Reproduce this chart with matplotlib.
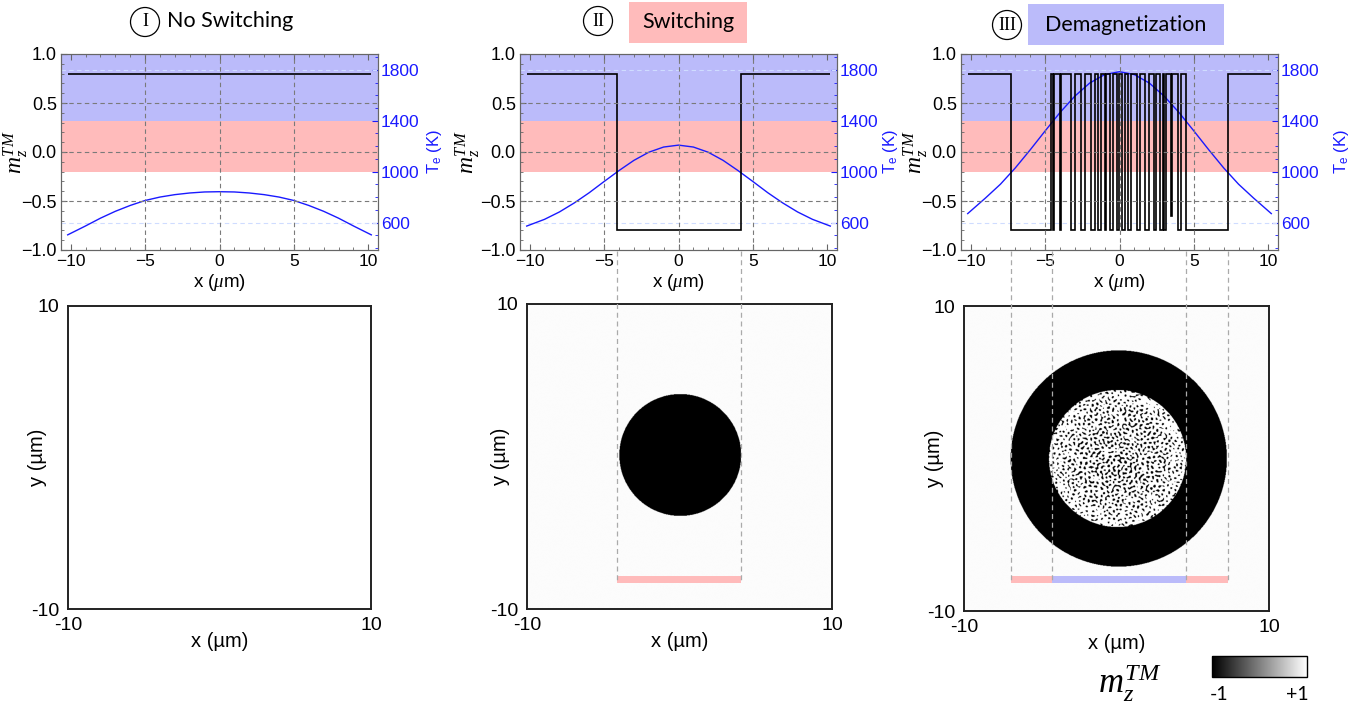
import matplotlib
matplotlib.use("Agg")
import matplotlib.pyplot as plt
import numpy as np
from matplotlib import transforms
from matplotlib.patches import Rectangle, Ellipse
from matplotlib.lines import Line2D
from matplotlib.ticker import MultipleLocator, FuncFormatter, FixedLocator
from matplotlib.cm import ScalarMappable
from matplotlib.colors import Normalize

plt.rcParams['font.family'] = ['Liberation Sans', 'DejaVu Sans']
plt.rcParams['mathtext.fontset'] = 'custom'
plt.rcParams['mathtext.it'] = 'Liberation Serif:italic'
plt.rcParams['mathtext.rm'] = 'Liberation Sans'
plt.rcParams['mathtext.sf'] = 'Liberation Sans'

# ---- data -------------------------------------------------------------
titles = ["No Switching", "Switching", "Demagnetization"]
numerals = ["I", "II", "III"]

# electron temperature along the cut (K)
x_T = [-10.2, -9, -8, -7, -6, -5, -4, -3, -2, -1, 0, 1, 2, 3, 4, 5, 6, 7, 8, 9, 10.2]
T_none = [503, 573, 634, 688, 734, 773, 800, 819, 832, 840, 842,
          840, 832, 819, 800, 773, 734, 688, 634, 573, 503]
T_switch = [572, 625, 683, 754, 834, 922, 1008, 1088, 1152, 1193, 1208,
            1193, 1152, 1088, 1008, 922, 834, 754, 683, 625, 572]
T_demag = [670, 793, 901, 1029, 1171, 1319, 1464, 1593, 1696, 1762, 1785,
           1762, 1696, 1593, 1464, 1319, 1171, 1029, 901, 793, 670]

# thresholds (K)
T_SW = 1000
T_DM = 1400

# m_z^TM along the cut: step edges (um) and level in each step
mz_edges_none = [-10.2, 10.2]
mz_none = [0.8]
mz_edges_switch = [-10.2, -4.1, 4.2, 10.2]
mz_switch = [0.8, -0.8, 0.8]
mz_edges_demag = [-10.2, -7.3, -4.57, -4.45, -4.38, -4.02, -3.95, -3.25, -3.0,
                  -2.6, -2.35, -1.9, -1.65, -1.45, -1.25, -1.0, -0.9, -0.65,
                  -0.42, -0.2, -0.05, 0.15, 0.35, 0.6, 0.8, 1.15, 1.4, 1.7,
                  1.95, 2.3, 2.42, 2.72, 2.95, 3.0, 3.1, 3.48, 3.53, 3.95,
                  4.15, 4.5, 7.3, 10.2]
mz_demag = [0.8, -0.8, 0.8, -0.8, 0.8, -0.8, 0.8, -0.8, 0.8, -0.8, 0.8,
            -0.8, 0.8, -0.8, 0.8, -0.8, 0.8, -0.8, 0.8, -0.8, 0.8, -0.8,
            0.8, -0.8, 0.8, -0.8, 0.8, -0.8, 0.8, -0.8, 0.8, -0.8, 0.8,
            -0.8, 0.8, -0.65, 0.8, -0.8, 0.8, -0.8, 0.8]

# domain-wall positions along the cut (um) and zone of each interval
walls_switch = [-4.1, 4.2]
zones_switch = ["sw"]
walls_demag = [-7.3, -4.55, 4.5, 7.3]
zones_demag = ["sw", "dm", "sw"]

# 2D maps: background m_z, switched disk (x0, y0, r) in um
bg_none = 1.0
bg_other = 0.97
disk_switch = (0.05, 0.1, 4.0)
disk_demag_outer = (0.15, 0.0, 7.1)
disk_demag_core = (0.07, 0.0, 4.5)

BLUE_BAND = "#bbbbfa"
RED_BAND = "#ffbbbb"
TCOL = "#1a1aff"
SPINE = "#666666"

W, H = 1365, 704
fig = plt.figure(figsize=(W / 100, H / 100), dpi=100)


def fbox(l, t, r, b):
    return [l / W, 1 - b / H, (r - l) / W, (b - t) / H]


def minus(v, pos):
    return ("%.1f" % v).replace("-", "\u2212")


top_px = [(61, 378), (520, 837), (961, 1278)]
bot_px = [(67, 306, 372, 609), (527, 304, 832, 609), (964, 306, 1269, 611)]
mlab_x = [-0.098, -0.12, -0.098]
tlab_x = [1.148, 1.138, 1.17]
ylab_x = [-0.07, -0.055, -0.065]

T_list = [T_none, T_switch, T_demag]
edges_list = [mz_edges_none, mz_edges_switch, mz_edges_demag]
mz_list = [mz_none, mz_switch, mz_demag]

top_axes = []
for i in range(3):
    l, r = top_px[i]
    ax = fig.add_axes(fbox(l, 54, r, 250))
    axT = ax.twinx()
    ax.set_zorder(axT.get_zorder() + 1)
    ax.patch.set_visible(False)

    axT.set_ylim(384, 1924)
    axT.axhspan(T_SW, T_DM, color=RED_BAND, lw=0)
    axT.axhspan(T_DM, 3000, color=BLUE_BAND, lw=0)
    for gy in (600, 1800):
        axT.axhline(gy, color="#cfdcff", lw=0.8, ls=(0, (4, 3)))
    axT.plot(x_T, T_list[i], color=TCOL, lw=1.0)
    axT.yaxis.set_major_locator(FixedLocator([600, 1000, 1400, 1800]))
    axT.yaxis.set_minor_locator(MultipleLocator(100))
    axT.tick_params(axis="y", which="both", direction="in", colors=TCOL,
                    labelsize=12.5, pad=2)
    axT.tick_params(axis="y", which="minor", length=2.5)
    axT.tick_params(axis="y", which="major", length=4.5)
    axT.set_ylabel("T$_{\\mathrm{e}}$ (K)", color=TCOL, fontsize=12)
    axT.yaxis.set_label_coords(tlab_x[i], 0.5)

    ax.stairs(mz_list[i], edges_list[i], baseline=None, color="black", lw=1.2)
    for gx in (-5, 0, 5):
        ax.axvline(gx, color="#7a7a7a", lw=0.8, ls=(0, (4, 3)))
    for gy in (-0.5, 0, 0.5):
        ax.axhline(gy, color="#7a7a7a", lw=0.8, ls=(0, (4, 3)))
    ax.set_xlim(-10.65, 10.65)
    ax.set_ylim(-1, 1)
    ax.xaxis.set_major_locator(MultipleLocator(5))
    ax.xaxis.set_minor_locator(MultipleLocator(1))
    ax.yaxis.set_major_locator(MultipleLocator(0.5))
    ax.yaxis.set_minor_locator(MultipleLocator(0.1))
    ax.yaxis.set_major_formatter(FuncFormatter(minus))
    ax.tick_params(axis="both", which="both", direction="in", top=True,
                   labelsize=12.5, pad=3, color=SPINE)
    ax.tick_params(axis="y", labelsize=13)
    ax.tick_params(which="minor", length=2.5)
    ax.tick_params(which="major", length=4.5)
    ax.set_xlabel("x ($\\mu$m)", fontsize=13.5, labelpad=2)
    ax.set_ylabel("$m_z^{TM}$", fontsize=17)
    ax.yaxis.set_label_coords(mlab_x[i], 0.5)
    for a in (ax, axT):
        for s in a.spines.values():
            s.set_color(SPINE)
    top_axes.append(ax)

# ---- 2D maps -------------------------------------------------------------
grid = np.linspace(-10, 10, 700)
X, Y = np.meshgrid(grid, grid)


def in_disk(d):
    return (X - d[0]) ** 2 + (Y - d[1]) ** 2 < d[2] ** 2


map_none = np.full(X.shape, bg_none)
map_switch = np.full(X.shape, bg_other)
map_switch[in_disk(disk_switch)] = -1.0

# fine multi-domain texture of the demagnetized core, denser near the centre
n_w = 41
waves = np.zeros(X.shape)
for k in range(n_w):
    a = k * 2.39996
    q = 17.0 + 12.0 * ((k * 0.618034) % 1.0)
    waves += np.cos(q * (X * np.cos(a) + Y * np.sin(a)) + 1.7 * k * k)
waves /= np.sqrt(n_w / 2)
rr = np.hypot(X - disk_demag_core[0], Y - disk_demag_core[1]) / disk_demag_core[2]
level = -1.1 + 0.5 * (1 - rr ** 2)
map_demag = np.full(X.shape, bg_other)
map_demag[in_disk(disk_demag_outer)] = -1.0
core = in_disk(disk_demag_core)
map_demag[core] = np.where(waves[core] > level[core], 1.0, -1.0)

maps = [map_none, map_switch, map_demag]
bot_axes = []
for i in range(3):
    l, t, r, b = bot_px[i]
    ax = fig.add_axes(fbox(l, t, r, b))
    ax.imshow(maps[i], cmap="gray", vmin=-1, vmax=1, origin="lower",
              extent=[-10, 10, -10, 10], interpolation="antialiased")
    ax.set_xlim(-10, 10)
    ax.set_ylim(-10, 10)
    ax.set_xticks([-10, 10])
    ax.set_xticklabels(["-10", "10"])
    ax.set_yticks([-10, 10])
    ax.set_yticklabels(["-10", "10"])
    ax.tick_params(length=0, labelsize=14, pad=6)
    ax.set_xlabel("x (\u00b5m)", fontsize=14.5)
    ax.xaxis.set_label_coords(0.5, -0.075)
    ax.set_ylabel("y (\u00b5m)", fontsize=14.5)
    ax.yaxis.set_label_coords(ylab_x[i], 0.5)
    for s in ax.spines.values():
        s.set_color("#222222")
        s.set_linewidth(1.4)
    bot_axes.append(ax)

# ---- connectors from the cut down to the zone bars --------------------
zone_col = {"sw": RED_BAND, "dm": BLUE_BAND}
for i, walls, zones in [(1, walls_switch, zones_switch), (2, walls_demag, zones_demag)]:
    tr = transforms.blended_transform_factory(top_axes[i].transData, fig.transFigure)
    y0 = 1 - 251 / H
    y1 = 1 - 583 / H
    for w in walls:
        fig.add_artist(Line2D([w, w], [y0, y1], transform=tr, color="#aaaaaa",
                              lw=0.9, ls=(0, (4, 3))))
    for k, z in enumerate(zones):
        fig.add_artist(Rectangle((walls[k], 1 - 583 / H), walls[k + 1] - walls[k],
                                 7 / H, transform=tr, color=zone_col[z], lw=0))

# ---- panel headings -----------------------------------------------------
circ = [(145, 22), (598, 21), (1007, 25)]
title_x = [167, 688, 1126]
title_y = [21, 22, 25]
boxes = [None, (629, 2, 747, 43, RED_BAND), (1028, 4, 1224, 45, BLUE_BAND)]
for i in range(3):
    cx, cy = circ[i]
    fig.add_artist(Ellipse((cx / W, 1 - cy / H), 29 / W, 29 / H,
                           transform=fig.transFigure, fc="white", ec="black", lw=0.9))
    fig.text(cx / W, 1 - cy / H, numerals[i], ha="center", va="center",
             family="Liberation Serif", fontsize=13)
    if boxes[i] is not None:
        bl, bt, br, bb, bc = boxes[i]
        fig.add_artist(Rectangle((bl / W, 1 - bb / H), (br - bl) / W, (bb - bt) / H,
                                 transform=fig.transFigure, color=bc, lw=0))
    fig.text(title_x[i] / W, 1 - title_y[i] / H, titles[i],
             ha="left" if boxes[i] is None else "center", va="center",
             family=["Lato", "DejaVu Sans"], fontsize=15.5)

# ---- colour scale -------------------------------------------------------
cax = fig.add_axes(fbox(1212, 656, 1307, 677))
cb = fig.colorbar(ScalarMappable(Normalize(-1, 1), "gray"), cax=cax,
                  orientation="horizontal")
cb.set_ticks([])
cb.outline.set_linewidth(1.0)
fig.text(1219 / W, 1 - 695 / H, "-1", ha="center", va="center",
         family=["Lato", "DejaVu Sans"], fontsize=14)
fig.text(1297 / W, 1 - 695 / H, "+1", ha="center", va="center",
         family=["Lato", "DejaVu Sans"], fontsize=14)
fig.text(1130 / W, 1 - 683 / H, "$m_z^{TM}$", ha="center", va="center", fontsize=25)

fig.savefig("out.png", dpi=100)
